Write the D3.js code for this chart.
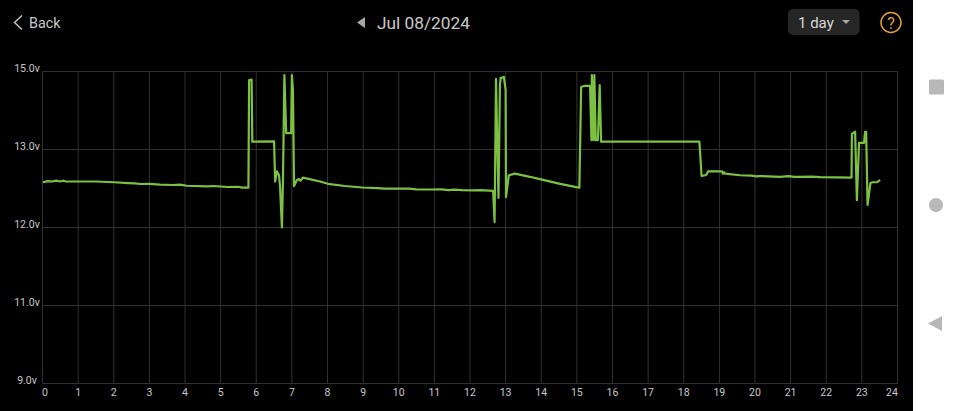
<!DOCTYPE html>
<html>
<head>
<meta charset="utf-8">
<style>
html, body { margin: 0; padding: 0; background: #fff; }
svg { display: block; }
text { font-family: Roboto, sans-serif; }
.axis path { display: none; }
.axis line { stroke: #303030; }
.axis text { font-size: 10.5px; fill: #c8c8c8; }
</style>
</head>
<body>
<div id="chart"></div>
<script src="https://d3js.org/d3.v7.min.js"></script>
<script>
// same line layout in both arrays, one line per stretch of the day
var hours = [
  0.01, 0.15, 0.27, 0.38, 0.49, 0.58, 0.66, 1.50, 2.01, 2.40, 2.60, 2.74, 3.00, 3.30, 3.66, 3.85, 4.05, 4.62, 4.80, 5.18, 5.50, 5.60, 5.78,
  5.80, 5.87, 5.89, 6.50, 6.53, 6.58, 6.64, 6.67, 6.72, 6.75, 6.79, 6.84, 6.98, 7.00, 7.03, 7.06, 7.14, 7.20, 7.24, 7.31,
  7.79, 8.01, 8.49, 8.97, 9.40, 9.60, 9.90, 10.30, 10.50, 10.82, 11.20, 11.40, 11.55, 11.78, 12.10, 12.30, 12.65,
  12.69, 12.73, 12.77, 12.80, 12.84, 12.86, 12.95, 13.00, 13.01, 13.09, 13.26, 13.68, 13.96, 14.53, 14.95, 15.07,
  15.12, 15.20, 15.37, 15.41, 15.42, 15.47, 15.49, 15.53, 15.59, 15.64, 15.68, 17.90, 18.44,
  18.50, 18.60, 18.64, 18.68, 19.07, 19.10, 19.13, 19.16, 19.58, 19.90, 20.05, 20.14, 20.70, 20.95, 21.10, 21.26, 21.60, 21.83, 22.71,
  22.72, 22.81, 22.86, 22.92, 23.06, 23.09, 23.12, 23.16, 23.24, 23.31, 23.43, 23.51];
var volts = [
  12.58, 12.595, 12.59, 12.60, 12.59, 12.60, 12.59, 12.59, 12.58, 12.57, 12.565, 12.558, 12.56, 12.55, 12.545, 12.55, 12.535, 12.526, 12.532, 12.519, 12.522, 12.512, 12.51,
  14.78, 14.79, 13.20, 13.21, 12.59, 12.72, 12.67, 12.51, 12.00, 12.60, 14.91, 13.42, 13.42, 14.91, 14.53, 12.53, 12.61, 12.62, 12.60, 12.64,
  12.59, 12.56, 12.532, 12.513, 12.505, 12.498, 12.50, 12.498, 12.49, 12.487, 12.488, 12.48, 12.486, 12.48, 12.476, 12.48, 12.47,
  12.07, 14.81, 12.99, 12.38, 14.65, 14.83, 14.86, 14.53, 12.39, 12.67, 12.69, 12.65, 12.62, 12.56, 12.52, 12.51,
  14.60, 14.63, 14.63, 13.24, 14.91, 13.24, 14.91, 13.24, 13.24, 14.65, 13.20, 13.20, 13.20,
  12.66, 12.67, 12.68, 12.72, 12.72, 12.69, 12.71, 12.69, 12.67, 12.665, 12.655, 12.66, 12.65, 12.658, 12.648, 12.65, 12.652, 12.645, 12.64,
  13.40, 13.46, 12.35, 13.17, 13.17, 13.45, 13.45, 12.29, 12.57, 12.58, 12.58, 12.61];
var hourTicks = d3.range(0, 25);
var voltTicks = [9, 11, 12, 13, 15];

var w = 960,
  h = 411,
  left = 42.5,
  right = 897.5,
  top_ = 71.5,
  bottom = 383.5;

var svg = d3.select("#chart")
  .append("svg")
  .attr("width", w)
  .attr("height", h);

// phone screen, the nav bar on the right stays white
svg.append("rect").attr("width", 913).attr("height", h).attr("fill", "#000");

var x = d3.scaleLinear().domain([0, 24]).range([left, right]),
    // the voltage ticks are evenly spaced even though the values are not
    y = d3.scaleLinear()
      .domain(voltTicks)
      .range(voltTicks.map(function (d, i) { return bottom - i * (bottom - top_) / (voltTicks.length - 1); }));

var xAxis = d3.axisBottom(x)
    .tickValues(hourTicks)
    .tickSize(-(bottom - top_))
    .tickPadding(5)
    .offset(0)
    .tickFormat(function (d) { return d; }),
  yAxis = d3.axisLeft(y)
    .tickValues(voltTicks)
    .tickSize(-(right - left))
    .tickPadding(0)
    .offset(0)
    .tickFormat(function (d) { return d.toFixed(1) + "v"; });

var gx = svg.append("g")
  .attr("class", "axis")
  .attr("transform", "translate(0, " + bottom + ")")
  .call(xAxis);

// first and last hour labels are nudged inside the plot
gx.selectAll("text")
  .attr("dx", function (d) { return d == 0 ? 2.5 : (d == 24 ? -5.5 : 0); });

var gy = svg.append("g")
  .attr("class", "axis")
  .attr("transform", "translate(" + left + ", 0)")
  .call(yAxis);

gy.selectAll("text")
  .attr("text-anchor", "middle")
  .attr("x", 27 - left)
  .attr("dy", "0.02em");

var line = d3.line()
  .x(function (d) { return x(d); })
  .y(function (d, i) { return y(volts[i]); });

svg.append("path")
  .datum(hours)
  .attr("d", line)
  .attr("fill", "none")
  .attr("stroke", "#7cc142")
  .attr("stroke-width", 2.2)
  .attr("stroke-linejoin", "round");

// header
svg.append("path").attr("d", "M22,15.5L14.5,22.5L22,29.5")
  .attr("fill", "none").attr("stroke", "#c0c0c0").attr("stroke-width", 1.5);
svg.append("text").attr("x", 29).attr("y", 28).attr("font-size", 14.3).attr("fill", "#c8c8c8").text("Back");

svg.append("path").attr("d", "M365,17L365,28L357,22.5Z").attr("fill", "#a8a8a8");
svg.append("text").attr("x", 377).attr("y", 29).attr("font-size", 17.3).attr("fill", "#c8c8c8").text("Jul 08/2024");

svg.append("rect").attr("x", 788).attr("y", 9).attr("width", 71.5).attr("height", 26).attr("rx", 5).attr("fill", "#262626");
svg.append("text").attr("x", 798).attr("y", 28).attr("font-size", 15).attr("fill", "#d8d8d8").text("1 day");
svg.append("path").attr("d", "M842,20L850,20L846,24Z").attr("fill", "#a8a8a8");

svg.append("circle").attr("cx", 891).attr("cy", 22.5).attr("r", 10)
  .attr("fill", "none").attr("stroke", "#e0a030").attr("stroke-width", 1.5);
svg.append("text").attr("x", 891).attr("y", 28.5).attr("text-anchor", "middle")
  .attr("font-size", 16).attr("fill", "#e0a030").text("?");

// nav bar icons
svg.append("rect").attr("x", 929).attr("y", 79.5).attr("width", 15).attr("height", 15).attr("rx", 1.5).attr("fill", "#b8b8b8");
svg.append("circle").attr("cx", 936).attr("cy", 205).attr("r", 7).attr("fill", "#b8b8b8");
svg.append("path").attr("d", "M942,316L942,331L928,323.5Z").attr("fill", "#b8b8b8");
</script>
</body>
</html>
